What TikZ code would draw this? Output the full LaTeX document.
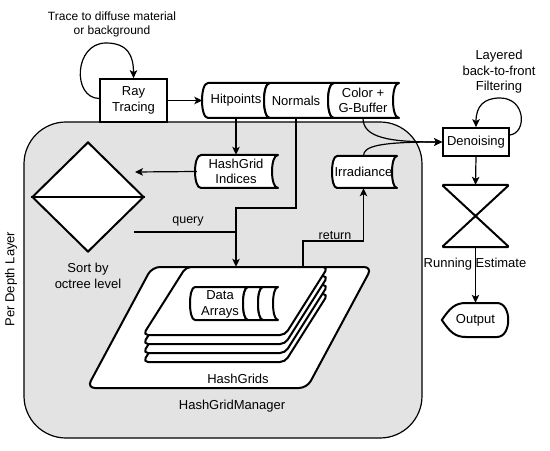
\documentclass[tikz,border=0pt]{standalone}
\usepackage{fontspec}
\setmainfont{Liberation Sans}
\usetikzlibrary{arrows.meta,shapes.geometric}
\newcommand\mySD[5]{\draw[sd] ({#1+#5},#2) -- ({#3+#5},#2) .. controls ({#3-#5/3},#2) and ({#3-#5/3},#4) .. ({#3+#5},#4) -- ({#1+#5},#4) .. controls ({#1-#5/3},#4) and ({#1-#5/3},#2) .. ({#1+#5},#2) -- cycle;}
\begin{document}
\begin{tikzpicture}[x=1bp,y=-1bp,
  every node/.style={font=\fontsize{13bp}{15.5bp}\selectfont, inner sep=0pt, align=center},
  small/.style={font=\fontsize{12bp}{14bp}\selectfont},
  ln/.style={line width=1.2bp},
  arr/.style={line width=1.2bp, -{Stealth[length=8bp,width=7.5bp,inset=2bp]}},
  sd/.style={line width=2bp, fill=white, line join=round},
  boxst/.style={draw, line width=1.7bp, fill=white},
]
\useasboundingbox (0,0) rectangle (550,451);
\fill[white] (0,0) rectangle (550,451);

% manager container
\node[draw, fill=gray!22, line width=1.2bp, rounded corners=42bp,
      minimum width=398bp, minimum height=316bp] (mgr) at (223,280) {};

% stored-data row
\mySD{202}{83}{264}{118}{6}
\mySD{264}{83}{328}{118}{6}
\mySD{328}{83}{393}{118}{6}
% hashgrid indices and irradiance
\mySD{195}{155}{272}{188}{6}
\mySD{332}{156}{392}{188}{5}

% diamond
\node[draw, diamond, fill=white, line width=2bp, inner sep=0pt,
      minimum width=112bp, minimum height=110bp] (dia) at (88,197) {};
\draw[line width=2bp] (dia.west) -- (dia.east);

% hash grids
\draw[sd, rounded corners=8bp] (152,267) -- (372,267) -- (307,388) -- (87,388) -- cycle;
\foreach \k in {27,18,9,0}
  \draw[sd, rounded corners=5bp] (186,{267+\k}) -- (328,{267+\k}) -- (285,{335+\k}) -- (143,{335+\k}) -- cycle;
\mySD{190}{287}{243}{320}{5}
\mySD{243}{287}{258}{320}{5}
\mySD{258}{287}{273}{320}{5}

% hourglass and output
\node[minimum width=67bp, minimum height=62bp] (hgl) at (475.5,216) {};
\draw[sd, rounded corners=1.5bp] (hgl.north west) -- (hgl.north east) -- (hgl.south west) -- (hgl.south east) -- cycle;
\node[minimum width=67bp, minimum height=34bp] (out) at (475.5,320) {};
\draw[sd] (out.west) .. controls (450,308) and (455,303) .. (466,303) -- (497,303)
  .. controls (512,303) and (512,337) .. (497,337) -- (466,337)
  .. controls (455,337) and (450,332) .. (out.west) -- cycle;
\node (outt) at (475.5,320) {Output};

% boxes
\node[boxst, minimum width=67bp, minimum height=43bp] (ray) at (133.5,100.5) {Ray\\Tracing};
\node[boxst, minimum width=66bp, minimum height=28bp] (den) at (476,142) {Denoising};

% text nodes
\node[minimum width=67bp, minimum height=35bp] (hit) at (236,100.5) {Hitpoints};
\node[minimum height=35bp] (nor) at (296,100.5) {Normals};
\node[minimum height=35bp] (col) at (363,100.5) {Color +\\G-Buffer};
\node[minimum width=78bp, minimum height=33bp] (hgi) at (236,171.5) {HashGrid\\Indices};
\node[minimum height=32bp] (irr) at (363.5,172) {Irradiance};
\node[font=\fontsize{13bp}{16bp}\selectfont] (da) at (220,304) {Data\\Arrays};
\node[minimum width=285bp, minimum height=121bp] (hg) at (229.5,327.5) {};
\node (hgt) at (238,379) {HashGrids};
\node (mgt) at (232,406) {HashGridManager};
\node[rotate=90] (pdl) at (11,279) {Per Depth Layer};
\node[font=\fontsize{13bp}{16bp}\selectfont] (srt) at (88,276) {Sort by\\octree level};
\node[small] (tl) at (112,24) {Trace to diffuse material\\or background};
\node (lf) at (499,72) {Layered\\back-to-front\\Filtering};
\node[font=\fontsize{12.5bp}{14bp}\selectfont, anchor=base] (ql) at (188,224) {query};
\node[font=\fontsize{12.5bp}{14bp}\selectfont, anchor=base] (rl) at (335,240) {return};

% coordinates
\coordinate (qa) at (135,172);
\coordinate (qs) at (134,232);
\coordinate (qj) at (236,208);
\coordinate (rt) at (303,241);

% connectors
\draw[arr] ([yshift=2bp]ray.west) .. controls (72,98) and (74,43) .. (106,43)
  .. controls (128,43) and (133.5,56) .. (ray.north);
\draw[arr] (ray.east) -- (hit.west);
\draw[arr] (hit.south) -- (hgi.north);
\draw[arr] (hgi.west) -- (qa);
\draw[ln] (qs) -- (qj |- qs);
\draw[arr] (nor.south) |- (qj) -- (qj |- hg.north);
\draw[arr] (rt |- hg.north) -- (rt) -| (irr.south);
\draw[arr] (col.south) .. controls (363,138) and (390,142) .. (den.west);
\draw[arr] (irr.north) .. controls (363.5,146) and (380,142) .. (den.west);
\draw[arr] ([yshift=7bp]den.east) .. controls (527,133) and (526,98) .. (500,98)
  .. controls (484,98) and (476,106) .. (den.north);
\draw[arr] (den.south) -- (hgl.north);
\draw[arr] (hgl.south) -- (out.north);
\node (est) at (475,264) {Running Estimate};
\end{tikzpicture}
\end{document}
